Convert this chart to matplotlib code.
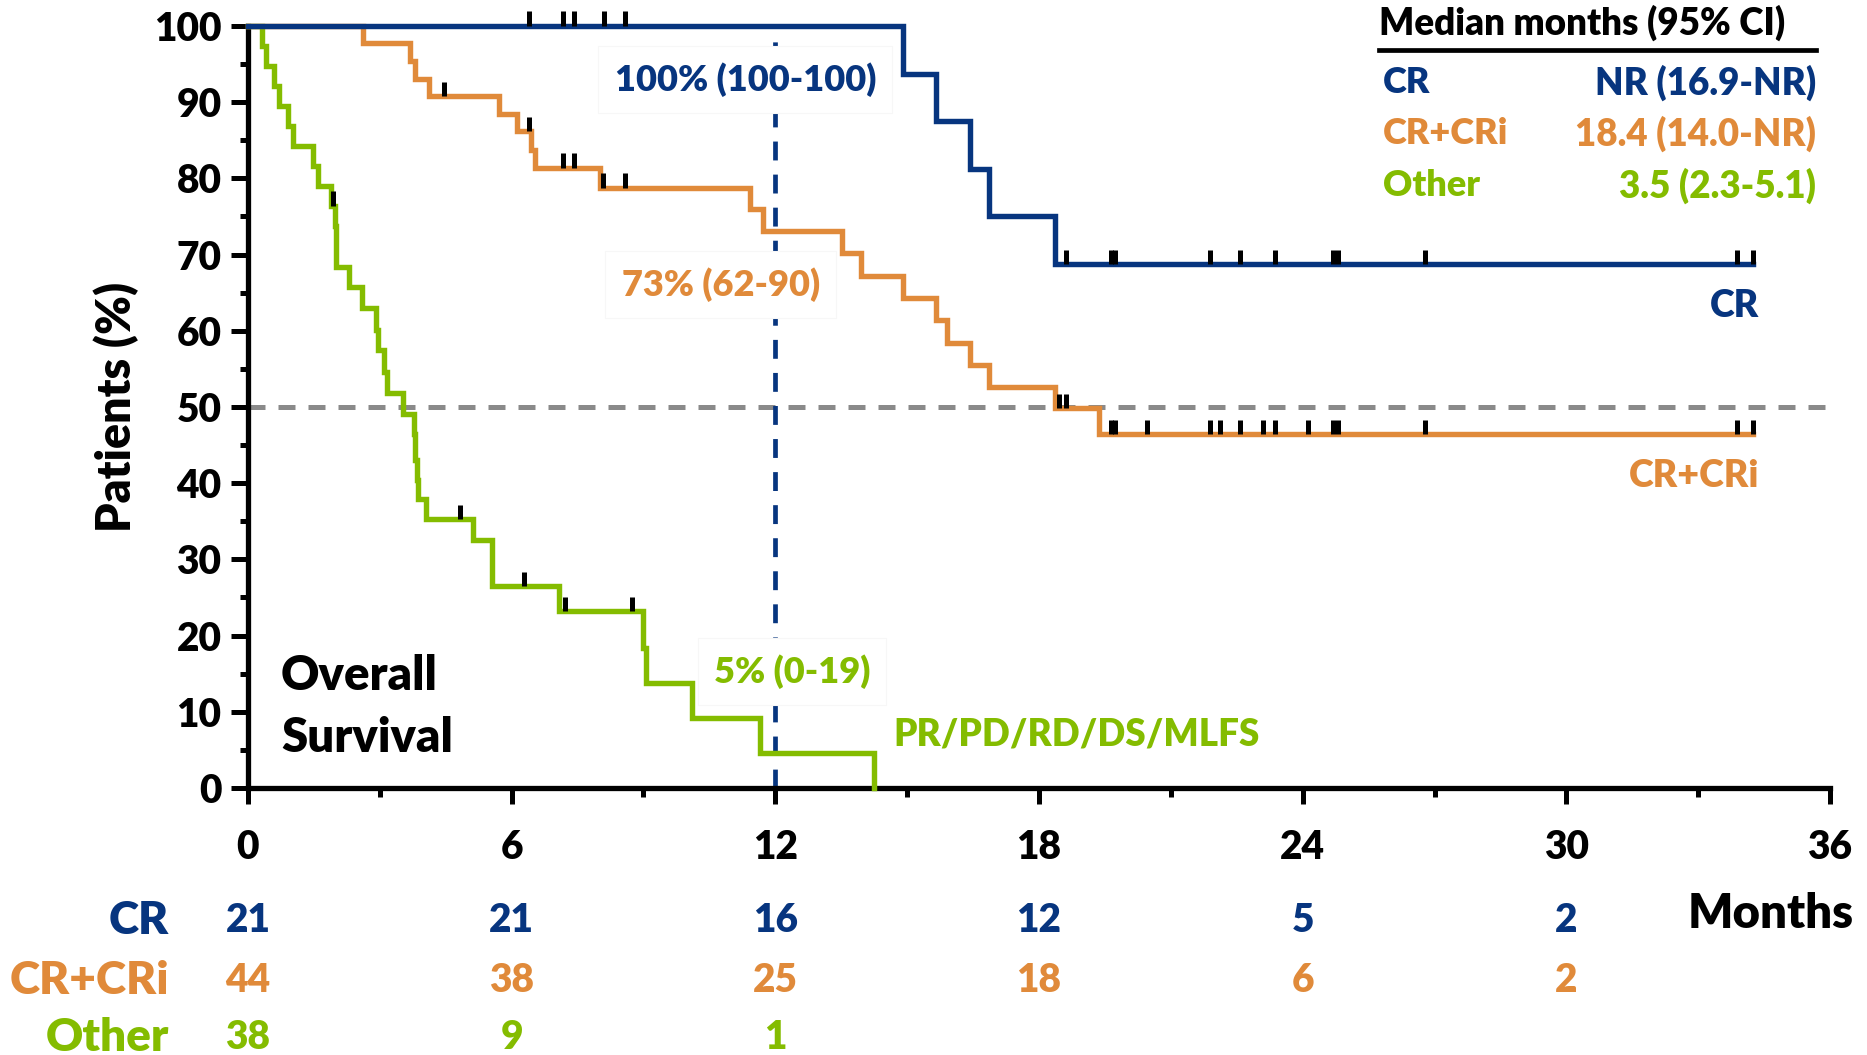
import numpy as np
import matplotlib.pyplot as plt
from matplotlib.ticker import MultipleLocator
from matplotlib.lines import Line2D

plt.rcParams['font.family'] = ['Lato', 'DejaVu Sans']
plt.rcParams['font.weight'] = 'heavy'

BLUE = '#07357F'
ORANGE = '#E08A3A'
GREEN = '#84BC00'
GREY = '#8A8A8A'

# Kaplan-Meier steps (month of step, % alive after it)
cr_t = [0, 14.90, 15.65, 16.42, 16.87, 18.36, 34.24]
cr_s = [100, 93.75, 87.5, 81.25, 75.0, 68.75, 68.75]
cr_cens = [6.39, 7.18, 7.41, 8.10, 8.59, 18.62, 19.63, 19.73, 21.88, 22.57,
           23.36, 24.70, 24.80, 26.78, 33.89, 34.24]

crc_t = [0, 2.61, 3.68, 3.80, 4.13, 5.72, 6.12, 6.45, 6.53, 8.00, 11.42, 11.71,
         13.52, 13.94, 14.90, 15.66, 15.90, 16.42, 16.87, 18.37, 19.37, 34.24]
crc_s = [100, 97.7, 95.4, 93.0, 90.8, 88.4, 86.2, 83.7, 81.4, 78.8, 76.0, 73.1,
         70.2, 67.2, 64.3, 61.4, 58.4, 55.5, 52.6, 49.8, 46.4, 46.4]
crc_cens = [4.45, 6.39, 7.18, 7.41, 8.08, 8.58, 18.46, 18.62, 19.63, 19.73,
            20.45, 21.88, 22.13, 22.57, 23.10, 23.36, 24.12, 24.70, 24.80,
            26.78, 33.89, 34.24]

oth_t = [0, 0.33, 0.42, 0.59, 0.71, 0.91, 1.03, 1.48, 1.60, 1.89, 1.97, 2.01,
         2.30, 2.60, 2.92, 2.95, 3.09, 3.17, 3.53, 3.79, 3.81, 3.84, 3.88,
         4.06, 5.12, 5.56, 7.07, 8.98, 9.06, 10.11, 11.66, 14.25]
oth_s = [100, 97.4, 94.7, 92.1, 89.5, 86.9, 84.2, 81.6, 79.0, 76.4, 73.7, 68.4,
         65.8, 63.0, 60.1, 57.5, 54.6, 51.8, 49.1, 46.4, 43.0, 40.4, 37.9,
         35.3, 32.5, 26.5, 23.2, 18.4, 13.8, 9.2, 4.6, 0]
oth_cens = [1.93, 4.83, 6.28, 7.21, 8.73]

# numbers at risk
risk_months = [0, 6, 12, 18, 24, 30]
risk_cr = [21, 21, 16, 12, 5, 2]
risk_crc = [44, 38, 25, 18, 6, 2]
risk_oth = [38, 9, 1]

groups = ['CR', 'CR+CRi', 'Other']
medians = ['NR (16.9-NR)', '18.4 (14.0-NR)', '3.5 (2.3-5.1)']
colors = [BLUE, ORANGE, GREEN]


def level_at(t, s, x):
    # survival level of a post-step curve at time x
    idx = np.searchsorted(np.asarray(t), np.asarray(x), side='right') - 1
    return np.asarray(s)[idx]


fig = plt.figure(figsize=(18.67, 10.55), dpi=100)
ax = fig.add_axes([0.1328, 0.2531, 0.8474, 0.7223])

ax.axhline(50, color=GREY, lw=3.6, ls=(0, (3.4, 2.6)), zorder=1)
ax.axvline(12, color=BLUE, lw=3.4, ls=(0, (4, 3)), zorder=1)

for t, s, c, z in [(oth_t, oth_s, GREEN, 3), (crc_t, crc_s, ORANGE, 4), (cr_t, cr_s, BLUE, 5)]:
    ax.step(t, s, where='post', color=c, lw=3.9, zorder=z, clip_on=False,
            solid_joinstyle='miter')

for t, s, cens in [(oth_t, oth_s, oth_cens), (crc_t, crc_s, crc_cens), (cr_t, cr_s, cr_cens)]:
    y = level_at(t, s, cens)
    ax.vlines(cens, y, y + 1.9, color='k', lw=3.6, zorder=6, clip_on=False)

ax.set_xlim(0, 36)
ax.set_ylim(0, 100)
ax.xaxis.set_major_locator(MultipleLocator(6))
ax.xaxis.set_minor_locator(MultipleLocator(3))
ax.yaxis.set_major_locator(MultipleLocator(10))
ax.yaxis.set_minor_locator(MultipleLocator(5))
for side in ['top', 'right']:
    ax.spines[side].set_visible(False)
for side in ['left', 'bottom']:
    ax.spines[side].set_linewidth(3.8)
ax.tick_params(axis='y', which='major', length=12, width=3.6, pad=7, labelsize=28)
ax.tick_params(axis='y', which='minor', length=6, width=3.6)
ax.tick_params(axis='x', which='major', length=11.5, width=3.6, pad=18, labelsize=28)
ax.tick_params(axis='x', which='minor', length=6.5, width=3.6)

ax.text(-0.083, 0.5, 'Patients (%)', transform=ax.transAxes, rotation=90,
        ha='center', va='center', fontsize=33.5)

box = dict(boxstyle='square,pad=0.45', fc='white', ec='#f7f7f7', lw=0.8)
ax.text(11.32, 93.0, '100% (100-100)', color=BLUE, fontsize=26, ha='center', va='center', bbox=box, zorder=2)
ax.text(10.76, 66.1, '73% (62-90)', color=ORANGE, fontsize=26, ha='center', va='center', bbox=box, zorder=2)
ax.text(12.38, 15.3, '5% (0-19)', color=GREEN, fontsize=26, ha='center', va='center', bbox=box, zorder=2)
ax.text(14.68, 7.0, 'PR/PD/RD/DS/MLFS', color=GREEN, fontsize=26.5, ha='left', va='center')
ax.text(34.38, 63.3, 'CR', color=BLUE, fontsize=27, ha='right', va='center')
ax.text(34.38, 41.0, 'CR+CRi', color=ORANGE, fontsize=27, ha='right', va='center')
ax.text(0.75, 14.7, 'Overall', fontsize=34, ha='left', va='center')
ax.text(0.75, 6.5, 'Survival', fontsize=34, ha='left', va='center')

# median table
ax.text(25.74, 100.4, 'Median months (95% CI)', fontsize=26.5, ha='left', va='center')
ax.add_line(Line2D([25.74 / 36, 35.69 / 36], [0.968, 0.968], transform=ax.transAxes,
                   color='k', lw=3.4, clip_on=False))
for i, (g, m, c) in enumerate(zip(groups, medians, colors)):
    yy = [92.6, 85.9, 79.0][i]
    ax.text(25.83, yy, g, color=c, fontsize=26, ha='left', va='center')
    ax.text(35.69, yy, m, color=c, fontsize=26.5, ha='right', va='center')

# numbers at risk
xt = ax.get_xaxis_transform()
rows_y = [-0.174, -0.252, -0.327]
for g, c, vals, ry in zip(groups, colors, [risk_cr, risk_crc, risk_oth], rows_y):
    ax.text(-1.8, ry, g, color=c, fontsize=33, ha='right', va='center', transform=xt)
    for m, n in zip(risk_months, vals):
        ax.text(m, ry, str(n), color=c, fontsize=28, ha='center', va='center', transform=xt)
ax.text(36.55, -0.166, 'Months', fontsize=34, ha='right', va='center', transform=xt)

fig.savefig('out.png', dpi=100)
